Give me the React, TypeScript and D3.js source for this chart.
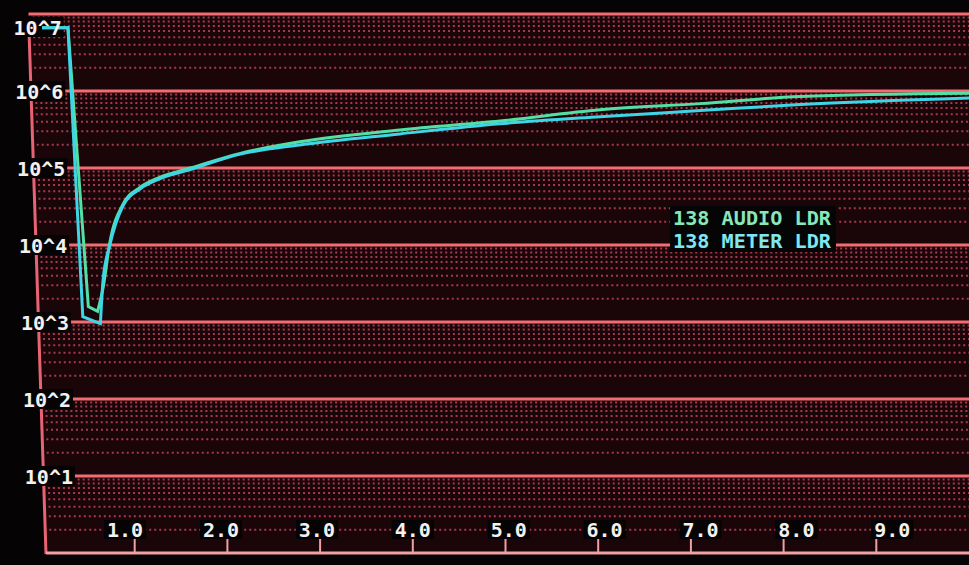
import React from "react";
import * as d3 from "d3";

const W = 969;
const H = 565;

// Y decade labels (exponents) and X tick labels
const decades = [1, 2, 3, 4, 5, 6, 7];
const xTicks = [1, 2, 3, 4, 5, 6, 7, 8, 9];
const xTickLabels = ["1.0", "2.0", "3.0", "4.0", "5.0", "6.0", "7.0", "8.0", "9.0"];

// Series: time (x) and log10 of value
const meterT = [0, 0.28, 0.44, 0.63, 0.66, 0.73, 0.87, 1.06, 1.25, 1.6, 2.14, 2.78, 3.86, 4.94, 6.02, 7.1, 8.18, 10];
const meterLog = [6.82, 6.82, 3.07, 2.98, 3.56, 3.99, 4.5, 4.73, 4.85, 4.98, 5.18, 5.3, 5.443, 5.575, 5.666, 5.746, 5.825, 5.91];
const meterStepEnd = 3; // index where the sharp step part ends and the smooth recovery starts

const audioT = [0, 0.28, 0.5, 0.6, 0.66, 0.73, 0.87, 1.06, 1.25, 1.6, 2.14, 2.78, 3.86, 4.94, 6.02, 7.1, 8.18, 10];
const audioLog = [6.82, 6.82, 3.2, 3.14, 3.45, 4.02, 4.52, 4.75, 4.87, 5.0, 5.19, 5.34, 5.495, 5.61, 5.756, 5.836, 5.928, 5.97];
const audioStepEnd = 3;

const legendLabels = ["138 AUDIO LDR", "138 METER LDR"];

const FONT = "'DejaVu Sans Mono', 'Liberation Mono', monospace";

export default function App() {
  const x = d3.scaleLinear().domain([0, 10]).range([42, 969]);
  const y = d3.scaleLog().domain([1, 1e7]).range([553, 14]);

  const toPts = (ts: number[], ls: number[]) => ts.map((t, i) => [t, Math.pow(10, ls[i])] as [number, number]);
  const stepLine = d3
    .line<[number, number]>()
    .x((d) => x(d[0]))
    .y((d) => y(d[1]))
    .curve(d3.curveLinear);
  const smoothLine = d3
    .line<[number, number]>()
    .x((d) => x(d[0]))
    .y((d) => y(d[1]))
    .curve(d3.curveMonotoneX);

  const seriesPath = (ts: number[], ls: number[], k: number) => {
    const pts = toPts(ts, ls);
    const a = stepLine(pts.slice(0, k + 1)) || "";
    const b = (smoothLine(pts.slice(k)) || "").replace(/^M/, "L");
    return a + b;
  };

  const minor: number[] = [];
  for (let d = 0; d < 7; d++) {
    for (let m = 2; m <= 9; m++) minor.push(m * Math.pow(10, d));
  }

  // slanted left axis (photo perspective)
  const axTop = { x: 29, y: 30 };
  const axBot = { x: 46, y: y(1) };
  const axisAt = (yy: number) => axTop.x + ((yy - axTop.y) / (axBot.y - axTop.y)) * (axBot.x - axTop.x);

  return (
    <svg width={W} height={H} style={{ position: "absolute", left: 0, top: 0, background: "#060304" }}>
      <rect x={0} y={0} width={W} height={H} fill="#060304" />
      <polygon
        points={`${axisAt(y(1e7))},${y(1e7)} ${W},${y(1e7)} ${W},${y(1)} ${axBot.x},${y(1)}`}
        fill="#1a0609"
      />
      {/* minor dotted grid */}
      {minor.map((v, i) => (
        <line
          key={"m" + i}
          x1={axisAt(y(v)) + 4}
          x2={W}
          y1={y(v)}
          y2={y(v)}
          stroke="#c04258"
          strokeWidth={2}
          strokeDasharray="2 3"
          opacity={0.85}
        />
      ))}
      {/* decade lines */}
      {decades.map((d) => (
        <line
          key={"d" + d}
          x1={axisAt(y(Math.pow(10, d)))}
          x2={W}
          y1={y(Math.pow(10, d))}
          y2={y(Math.pow(10, d))}
          stroke="#f26c72"
          strokeWidth={3}
        />
      ))}
      {/* axes */}
      <line x1={axTop.x} x2={axBot.x} y1={axTop.y} y2={axBot.y + 1} stroke="#e86474" strokeWidth={3} />
      <line x1={axBot.x} x2={W} y1={y(1)} y2={y(1)} stroke="#f4a0a4" strokeWidth={3} />
      {xTicks.map((t) => (
        <line key={"t" + t} x1={x(t)} x2={x(t)} y1={y(1)} y2={y(1) - 14} stroke="#f0a0a4" strokeWidth={2} />
      ))}
      {/* x tick labels */}
      {xTicks.map((t, i) => {
        const cx = x(t) + (t - 4) * 3.2;
        return (
          <g key={"xl" + t}>
            <rect x={cx - 21} y={520} width={42} height={19} fill="#060304" />
            <text
              x={cx}
              y={530}
              textAnchor="middle"
              dominantBaseline="central"
              fontFamily={FONT}
              fontWeight="bold"
              fontSize={20}
              fill="#f4f0f0"
            >
              {xTickLabels[i]}
            </text>
          </g>
        );
      })}
      {/* y label backgrounds */}
      {decades.map((d) => {
        const ly = Math.max(y(Math.pow(10, d)), 27);
        const cx = 37 + ly * 0.025;
        return <rect key={"yb" + d} x={cx - 26} y={ly - 10} width={52} height={20} fill="#060304" />;
      })}
      {/* series */}
      <path d={seriesPath(audioT, audioLog, audioStepEnd)} fill="none" stroke="#52e0a4" strokeWidth={3} strokeLinejoin="miter" />
      <path d={seriesPath(meterT, meterLog, meterStepEnd)} fill="none" stroke="#3ed6e6" strokeWidth={3} strokeLinejoin="miter" />
      {/* y labels */}
      {decades.map((d) => {
        const ly = Math.max(y(Math.pow(10, d)), 27);
        const cx = 37 + ly * 0.025;
        return (
          <text
            key={"yl" + d}
            x={cx}
            y={ly + 1}
            textAnchor="middle"
            dominantBaseline="central"
            fontFamily={FONT}
            fontWeight="bold"
            fontSize={20}
            fill="#f4f0f0"
          >
            {"10^" + d}
          </text>
        );
      })}
      {/* legend */}
      <rect x={670} y={206} width={166} height={46} fill="#050505" />
      <text x={673} y={218} dominantBaseline="central" fontFamily={FONT} fontWeight="bold" fontSize={19} fill="#88e6b8" textLength={158} lengthAdjust="spacingAndGlyphs">
        {legendLabels[0]}
      </text>
      <text x={673} y={241} dominantBaseline="central" fontFamily={FONT} fontWeight="bold" fontSize={19} fill="#80e6f0" textLength={158} lengthAdjust="spacingAndGlyphs">
        {legendLabels[1]}
      </text>
    </svg>
  );
}
